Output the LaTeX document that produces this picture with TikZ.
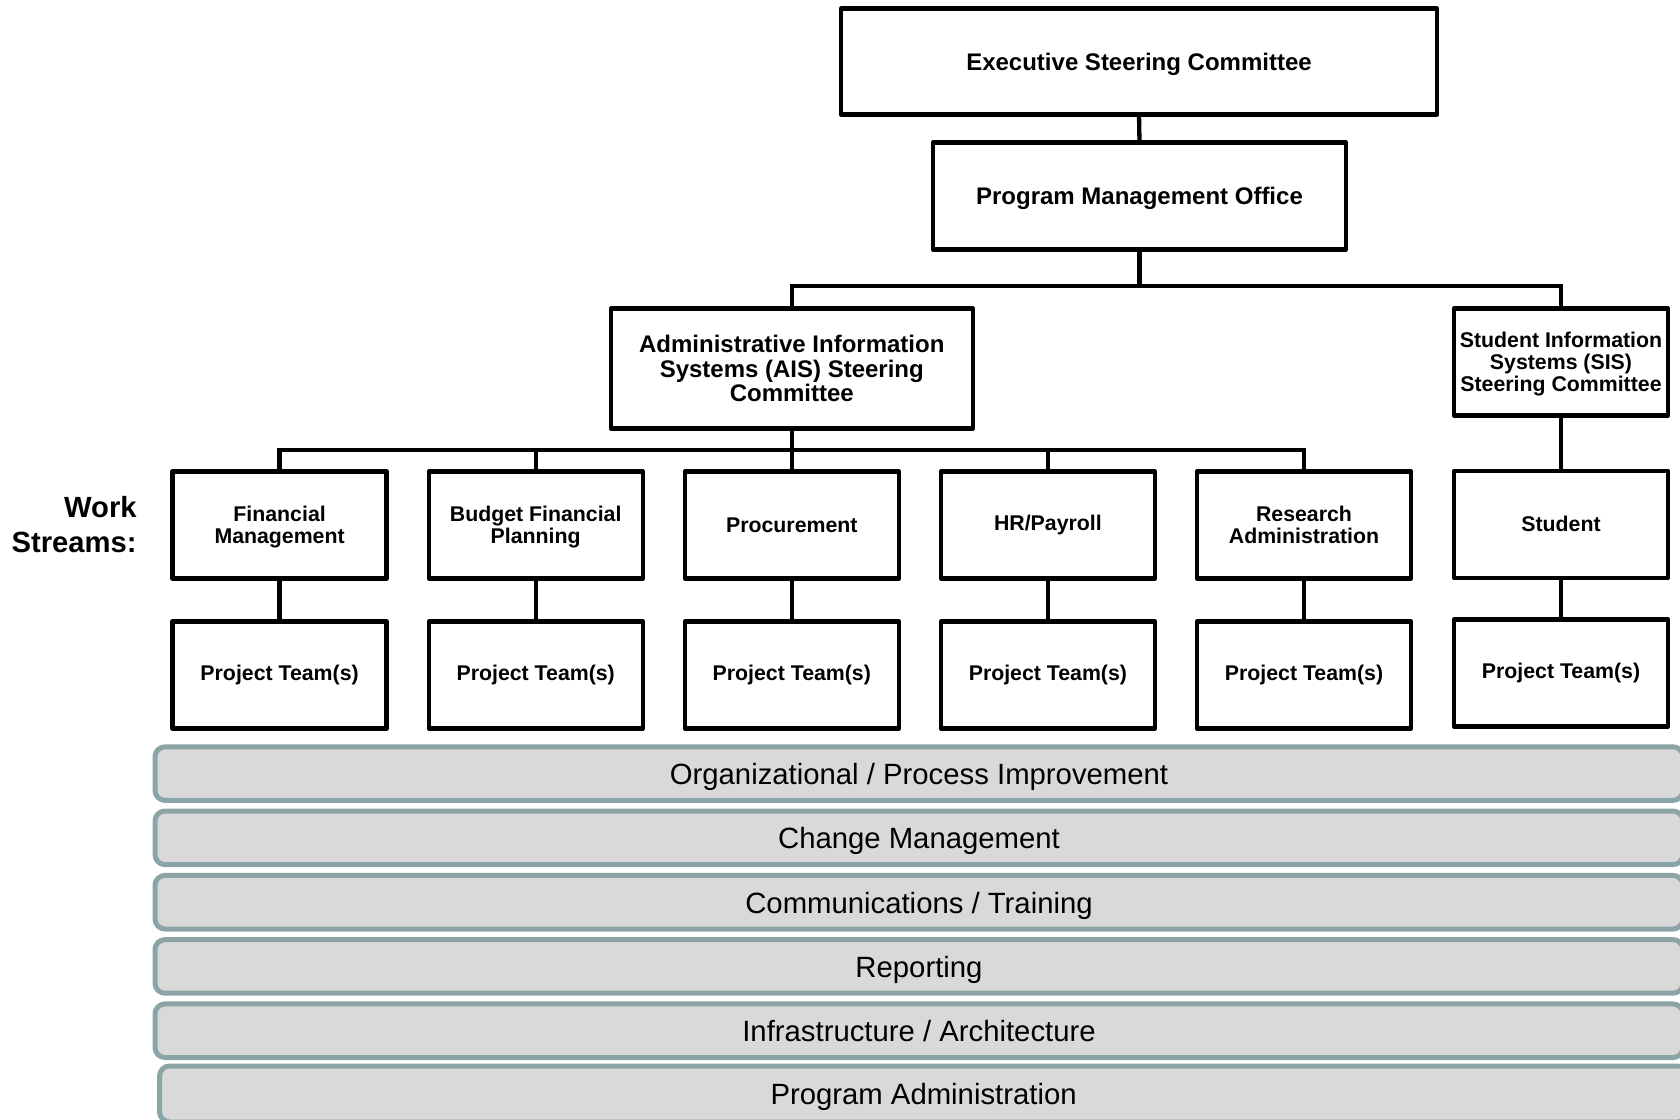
\documentclass[tikz,border=0pt]{standalone}
\usepackage{fontspec}
\setmainfont{Liberation Sans}
\definecolor{barline}{RGB}{139,165,167}
\definecolor{barfill}{RGB}{217,217,217}
\newcommand\fntBig{\fontsize{12pt}{12.3pt}\selectfont\bfseries}
\newcommand\fntSmall{\fontsize{10.65pt}{10.8pt}\selectfont\bfseries}
\newcommand\fntSis{\fontsize{10.65pt}{11pt}\selectfont\bfseries}
\newcommand\fntBar{\fontsize{14.65pt}{16pt}\selectfont}
\newcommand\fntWS{\fontsize{14.6pt}{17.5pt}\selectfont\bfseries}
\tikzset{
  box/.style={draw=black, line width=2.15pt, fill=white, inner sep=0pt, outer sep=0pt,
    align=center, text=black, line join=round},
  bigbox/.style={box, font=\fntBig},
  smallbox/.style={box, font=\fntSmall, minimum width=107pt, minimum height=53.5pt},
  nodepth/.style={text depth=0pt},
  conn/.style={draw=black, line width=2.15pt},
  bar/.style={draw=barline, fill=barfill, line width=2.5pt, rounded corners=5pt,
    inner sep=0pt, outer sep=0pt, font=\fntBar, text=black, minimum height=26.8pt,
    text height=10.8pt, text depth=0pt}
}
\begin{document}
\begin{tikzpicture}[x=0.5pt,y=-0.5pt]
\clip (0,0) rectangle (1680,1119);
\fill[white] (0,0) rectangle (1680,1119);

% top levels
\node[bigbox, nodepth, minimum width=298pt, minimum height=53pt] (exec) at (1139,61.6) {Executive Steering Committee};
\node[bigbox, nodepth, minimum width=206.5pt, minimum height=53.5pt] (pmo) at (1139.5,196) {Program Management Office};
\node[bigbox, minimum width=181pt, minimum height=60pt] (ais) at (791.8,368.6) {Administrative Information\\Systems (AIS) Steering\\Committee};
\node[box, nodepth, font=\fntSis, minimum width=107pt, minimum height=53.5pt] (sis) at (1561,362) {Student Information\\Systems (SIS)\\Steering Committee};

% work streams
\node[smallbox, nodepth] (fm) at (279.6,525) {Financial\\Management};
\node[smallbox, nodepth] (bfp) at (535.7,525) {Budget Financial\\Planning};
\node[smallbox] (proc) at (791.8,525) {Procurement};
\node[smallbox] (hr) at (1047.9,525) {HR/Payroll};
\node[smallbox] (ra) at (1304,525) {Research\\Administration};
\node[smallbox] (stu) at (1561,524.3) {Student};

% project teams
\node[smallbox] (pt1) at (279.6,675) {Project Team(s)};
\node[smallbox] (pt2) at (535.7,675) {Project Team(s)};
\node[smallbox] (pt3) at (791.8,675) {Project Team(s)};
\node[smallbox] (pt4) at (1047.9,675) {Project Team(s)};
\node[smallbox] (pt5) at (1304,675) {Project Team(s)};
\node[smallbox] (pt6) at (1561,673) {Project Team(s)};

% label
\node[font=\fntWS, align=right, anchor=east, inner sep=0pt] (wslabel) at (137,525) {Work\\Streams:};

% connectors
\coordinate (j1) at (1139.5,286);
\coordinate (j2) at (791.8,450);
\draw[conn] (exec.south) -- (pmo.north);
\draw[conn] (pmo.south) -- (j1);
\draw[conn] (ais.north) |- (j1) -| (sis.north);
\draw[conn] (ais.south) -- (proc.north);
\draw[conn] (fm.north) |- (j2) -| (ra.north);
\draw[conn] (bfp.north) |- (j2);
\draw[conn] (hr.north) |- (j2);
\draw[conn] (sis.south) -- (stu.north);
\draw[conn] (fm.south) -- (pt1.north);
\draw[conn] (bfp.south) -- (pt2.north);
\draw[conn] (proc.south) -- (pt3.north);
\draw[conn] (hr.south) -- (pt4.north);
\draw[conn] (ra.south) -- (pt5.north);
\draw[conn] (stu.south) -- (pt6.north);

% bars
\node[bar, minimum width=764pt] (b1) at (919,773.6) {Organizational / Process Improvement};
\node[bar, minimum width=764pt] (b2) at (919,837.8) {Change Management};
\node[bar, minimum width=764pt] (b3) at (919,902.2) {Communications / Training};
\node[bar, minimum width=764pt] (b4) at (919,966.4) {Reporting};
\node[bar, minimum width=764pt] (b5) at (919,1030.7) {Infrastructure / Architecture};
\node[bar, minimum width=764pt, minimum height=28pt] (b6) at (923.6,1094) {Program Administration};
\end{tikzpicture}
\end{document}
